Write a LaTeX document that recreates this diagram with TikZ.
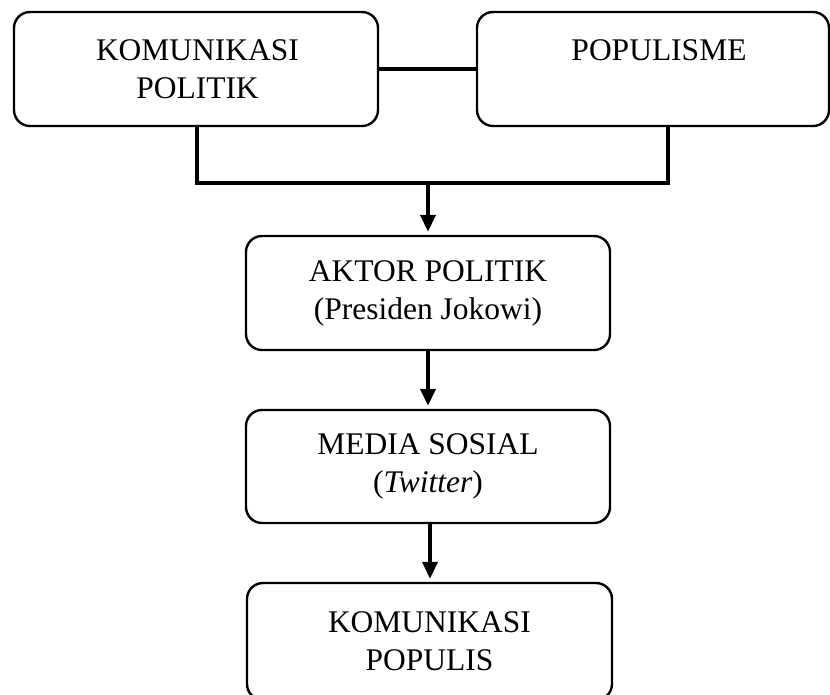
\documentclass[tikz,border=0pt]{standalone}
\usepackage{fontspec}
\setmainfont{Liberation Serif}
\usetikzlibrary{arrows.meta}
\begin{document}
\begin{tikzpicture}[x=1pt,y=-1pt,
  box/.style={draw=black,line width=2.4pt,rounded corners=16pt,inner sep=0pt,
    align=center,font=\fontsize{31.5}{38}\selectfont},
  link/.style={line width=4pt},
  flow/.style={line width=4pt,-{Triangle[length=17pt,width=15pt]},shorten >=3pt}]
\useasboundingbox (0,0) rectangle (830,695);
\node[box,minimum width=364pt,minimum height=114pt] (kp) at (196,69) {\hspace*{3pt}KOMUNIKASI\\\hspace*{3pt}POLITIK};
\node[box,minimum width=352pt,minimum height=114pt] (pop) at (653,69) {\hspace*{12pt}POPULISME\\\phantom{P}};
\node[box,minimum width=364pt,minimum height=114pt] (aktor) at (428,293) {AKTOR POLITIK\\(Presiden Jokowi)};
\node[box,minimum width=364pt,minimum height=113pt] (media) at (428,466.5) {MEDIA SOSIAL\\(\textit{Twitter})};
\node[box,minimum width=365pt,minimum height=117pt] (kpop) at (429.5,641.5) {KOMUNIKASI\\POPULIS};
\coordinate (j1) at (197,183);
\coordinate (j2) at (668,183);
\coordinate (jm) at (428,183);
\draw[link] (kp.east) -- (pop.west);
\draw[link,line cap=rect] (j1 |- kp.south) -- (j1) -- (j2) -- (j2 |- pop.south);
\draw[flow] (jm) -- (aktor.north);
\draw[flow] (aktor.south) -- (media.north);
\draw[flow] ([xshift=2pt]media.south) -- ([xshift=0.5pt]kpop.north);
\end{tikzpicture}
\end{document}
